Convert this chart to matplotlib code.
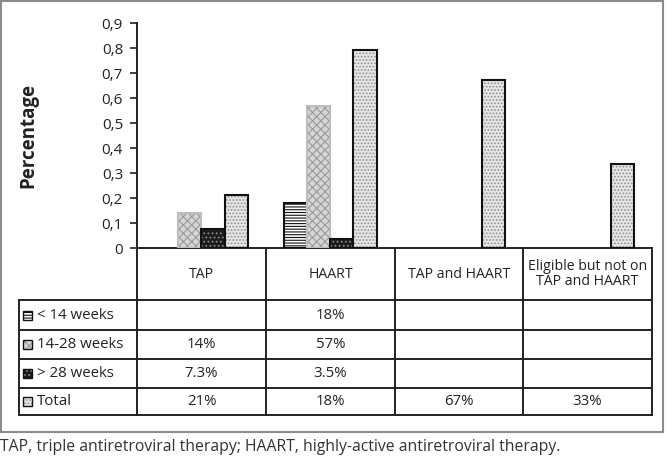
import numpy as np
import matplotlib
matplotlib.use("Agg")
import matplotlib.pyplot as plt
from matplotlib.patches import Rectangle

plt.rcParams['font.family'] = ['Open Sans', 'DejaVu Sans']
plt.rcParams['hatch.linewidth'] = 0.8

categories = ["TAP", "HAART", "TAP and HAART", "Eligible but not on\nTAP and HAART"]
series = ["< 14 weeks", "14-28 weeks", "> 28 weeks", "Total"]

lt14 = [np.nan, 0.18, np.nan, np.nan]
w14_28 = [0.14, 0.57, np.nan, np.nan]
gt28 = [0.076, 0.037, np.nan, np.nan]
total = [0.213, 0.793, 0.673, 0.336]
values = [lt14, w14_28, gt28, total]

lt14_labels = ["", "18%", "", ""]
w14_28_labels = ["14%", "57%", "", ""]
gt28_labels = ["7.3%", "3.5%", "", ""]
total_labels = ["21%", "18%", "67%", "33%"]
table_labels = [lt14_labels, w14_28_labels, gt28_labels, total_labels]

yticks = [0, 0.1, 0.2, 0.3, 0.4, 0.5, 0.6, 0.7, 0.8, 0.9]

# styles: face, hatch color, hatch, outline
styles = [
    ("white", "#111111", "------", "#111111"),
    ("#d6d6d6", "#9a9a9a", "xxxx", "#bdbdbd"),
    ("#1c1c1c", "#8a8a8a", "....", "#111111"),
    ("#e6e6e6", "#8f8f8f", ".....", "#111111"),
]

W, H = 670, 461
fig = plt.figure(figsize=(6.7, 4.61), dpi=100)

tax = fig.add_axes([0, 0, 1, 1])
tax.set_xlim(0, W)
tax.set_ylim(H, 0)
tax.axis("off")

tax.add_patch(Rectangle((1, 1), 662, 431, fill=False, edgecolor="#8c8c8c", linewidth=1.5))

x_left_leg = 19
x_cols = [137, 266, 395, 523, 652]
y_head_top = 248.3
y_rows = [300, 330, 359, 388, 415]
lc = "#222222"
lw = 1.4

tax.plot([x_cols[0], x_cols[-1]], [y_head_top, y_head_top], color=lc, lw=lw)
for y in y_rows:
    tax.plot([x_left_leg, x_cols[-1]], [y, y], color=lc, lw=lw)
for xc in x_cols:
    tax.plot([xc, xc], [y_head_top, y_rows[-1]], color=lc, lw=lw)
tax.plot([x_left_leg, x_left_leg], [y_rows[0], y_rows[-1]], color=lc, lw=lw)

fs = 10.2
for i, cat in enumerate(categories):
    cx = (x_cols[i] + x_cols[i + 1]) / 2
    tax.text(cx, (y_head_top + y_rows[0]) / 2, cat, ha="center", va="center",
             fontsize=fs, linespacing=1.0, color="#222222")

for r, name in enumerate(series):
    cy = (y_rows[r] + y_rows[r + 1]) / 2
    face, hc, hatch, oc = styles[r]
    tax.add_patch(Rectangle((23, cy - 4.5), 9, 9, facecolor=face, edgecolor=hc,
                            hatch=hatch, linewidth=0))
    tax.add_patch(Rectangle((23, cy - 4.5), 9, 9, fill=False, edgecolor="#111111", linewidth=1.0))
    tax.text(37, cy, name, ha="left", va="center", fontsize=10.8, color="#222222")
    for i, lab in enumerate(table_labels[r]):
        cx = (x_cols[i] + x_cols[i + 1]) / 2
        tax.text(cx, cy, lab, ha="center", va="center", fontsize=10.8, color="#222222")

tax.text(0, 447, "TAP, triple antiretroviral therapy; HAART, highly-active antiretroviral therapy.",
         ha="left", va="center", fontsize=11.3, color="#333333")

ax = fig.add_axes([137 / W, 1 - 248.3 / H, 515 / W, 225 / H])
ax.set_facecolor("none")
x = np.arange(len(categories))
w = 0.181
for i, vals in enumerate(values):
    face, hc, hatch, oc = styles[i]
    xs = x + (i - 1.5) * w
    ax.bar(xs, vals, w, color=face, edgecolor=hc, hatch=hatch, linewidth=0)
    ax.bar(xs, vals, w, fill=False, edgecolor=oc, linewidth=1.5)

ax.set_xlim(-0.5, len(categories) - 0.5)
ax.set_ylim(0, 0.9)
ax.set_yticks(yticks)
ax.set_yticklabels([f"{v:.1f}".replace(".", ",") if v else "0" for v in yticks],
                   fontsize=11, color="#222222")
ax.set_xticks([])
for s in ["top", "right", "bottom"]:
    ax.spines[s].set_visible(False)
ax.spines["left"].set_linewidth(1.4)
ax.spines["left"].set_color(lc)
ax.tick_params(axis="y", direction="out", length=5, width=1.2, color=lc, pad=5)
ax.set_ylabel("Percentage", fontsize=13.5, fontweight="bold", color="#222222")
ax.yaxis.set_label_coords(-0.192, 0.5)

fig.savefig("out.png", dpi=100)
